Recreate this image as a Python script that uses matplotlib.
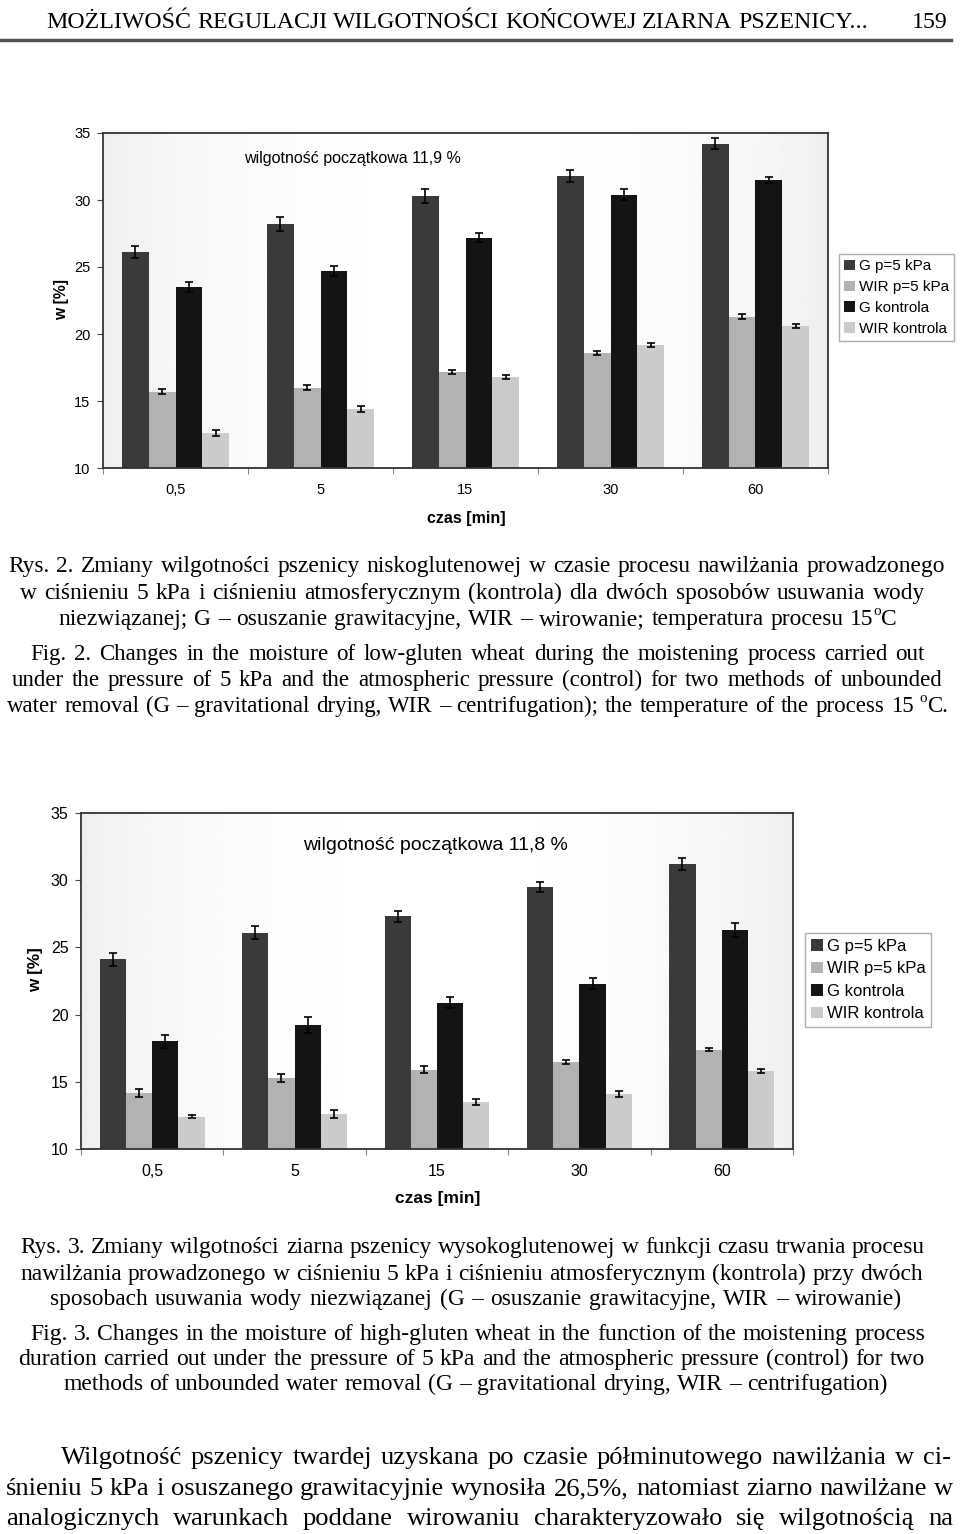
import numpy as np
import matplotlib
matplotlib.use("Agg")
import matplotlib.pyplot as plt
from matplotlib.patches import Patch
from matplotlib.lines import Line2D

plt.rcParams['font.family'] = ['Liberation Sans', 'DejaVu Sans']

# --- dane ---
czas = ['0,5', '5', '15', '30', '60']
serie = ['G p=5 kPa', 'WIR p=5 kPa', 'G kontrola', 'WIR kontrola']
kolory = ['#3a3a3a', '#b2b2b2', '#141414', '#cbcbcb']

# Rys. 2 - pszenica niskoglutenowa
g_p5_1 = [26.1, 28.2, 30.3, 31.8, 34.2]
wir_p5_1 = [15.7, 16.0, 17.2, 18.6, 21.3]
g_k_1 = [23.5, 24.7, 27.2, 30.4, 31.5]
wir_k_1 = [12.6, 14.4, 16.8, 19.2, 20.6]
g_p5_1_err = [0.45, 0.5, 0.5, 0.45, 0.4]
wir_p5_1_err = [0.2, 0.2, 0.15, 0.15, 0.2]
g_k_1_err = [0.35, 0.4, 0.35, 0.4, 0.2]
wir_k_1_err = [0.2, 0.25, 0.15, 0.15, 0.12]

# Rys. 3 - pszenica wysokoglutenowa
g_p5_2 = [24.1, 26.1, 27.3, 29.5, 31.2]
wir_p5_2 = [14.2, 15.3, 15.9, 16.5, 17.4]
g_k_2 = [18.0, 19.2, 20.9, 22.3, 26.3]
wir_k_2 = [12.4, 12.6, 13.5, 14.1, 15.8]
g_p5_2_err = [0.5, 0.5, 0.4, 0.4, 0.45]
wir_p5_2_err = [0.3, 0.3, 0.25, 0.15, 0.12]
g_k_2_err = [0.5, 0.6, 0.4, 0.4, 0.5]
wir_k_2_err = [0.12, 0.3, 0.2, 0.2, 0.15]

W, H = 960, 1534
fig = plt.figure(figsize=(W / 100, H / 100), dpi=100)
fig.patch.set_facecolor('white')


def fx(x):
    return x / W


def fy(y):
    return 1 - y / H


def wykres(box, wartosci, bledy, tytul, poz_tyt, fs_tyt, poz_w, poz_czas, leg_xy, fs, fs_leg):
    l, t, r, b = box
    ax = fig.add_axes([fx(l), fy(b), (r - l) / W, (b - t) / H])
    # lekki gradient tla
    g = np.linspace(0, 1, 300)
    tlo = 0.93 + 0.07 * np.sin(np.pi * g) ** 0.6
    ax.imshow(tlo[np.newaxis, :], cmap='gray', vmin=0, vmax=1, aspect='auto',
              extent=(0, 1, 0, 1), transform=ax.transAxes, zorder=0)
    x = np.arange(len(czas))
    w = 0.184
    for i in range(4):
        ax.bar(x + (i - 1.5) * w, wartosci[i], w, color=kolory[i], zorder=2,
               yerr=bledy[i], capsize=3,
               error_kw=dict(elinewidth=1.2, capthick=1.2, ecolor='black', zorder=3))
    ax.set_xlim(-0.5, len(czas) - 0.5)
    ax.set_ylim(10, 35)
    ax.set_yticks([10, 15, 20, 25, 30, 35])
    ax.set_xticks(np.arange(-0.5, len(czas)), labels=[''] * (len(czas) + 1))
    ax.set_xticks(x, labels=czas, minor=True)
    ax.tick_params(axis='x', which='major', direction='out', length=4, color='#888')
    ax.tick_params(axis='x', which='minor', length=0, pad=11, labelsize=fs)
    ax.tick_params(axis='y', direction='out', length=4, pad=5, labelsize=fs, color='#444')
    for s in ax.spines.values():
        s.set_color('#333')
        s.set_linewidth(1.3)
    fig.text(fx(poz_tyt[0]), fy(poz_tyt[1]), tytul, fontsize=fs_tyt, ha='center', va='center')
    fig.text(fx(poz_w[0]), fy(poz_w[1]), 'w [%]', fontsize=fs + 0.8, fontweight='bold',
             rotation=90, ha='center', va='center')
    fig.text(fx(poz_czas[0]), fy(poz_czas[1]), 'czas [min]', fontsize=fs + 1,
             fontweight='bold', ha='center', va='center')
    uchwyty = [Patch(facecolor=kolory[i], label=serie[i]) for i in range(4)]
    leg = ax.legend(handles=uchwyty, loc='upper left', bbox_to_anchor=(fx(leg_xy[0]), fy(leg_xy[1])),
                    bbox_transform=fig.transFigure, fancybox=False, edgecolor='#999',
                    fontsize=fs_leg, handlelength=0.7, handleheight=0.7, handletextpad=0.25,
                    labelspacing=0.45, borderpad=0.35, borderaxespad=0)
    leg.get_frame().set_linewidth(1.0)
    return ax


wykres((103, 133, 828, 468), [g_p5_1, wir_p5_1, g_k_1, wir_k_1],
       [g_p5_1_err, wir_p5_1_err, g_k_1_err, wir_k_1_err],
       'wilgotność początkowa 11,9 %', (352, 158), 11.5, (62, 300), (466, 518), (839, 254), 10.5, 11)

wykres((81, 813, 793, 1149), [g_p5_2, wir_p5_2, g_k_2, wir_k_2],
       [g_p5_2_err, wir_p5_2_err, g_k_2_err, wir_k_2_err],
       'wilgotność początkowa 11,8 %', (435, 846), 14, (36, 970), (438, 1198), (805, 933), 11.5, 12)

# --- teksty pod wykresami ---
renderer = fig.canvas.get_renderer()
SERIF = 'Liberation Serif'


def szer(tekst, size):
    if tekst == '':
        return 0
    t = fig.text(0, 0, tekst, fontsize=size, family=SERIF)
    w = t.get_window_extent(renderer=renderer).width
    t.remove()
    return w


# slowo moze miec indeks gorny zapisany jako ^o (stopnie)
def szerokosc(slowo, size):
    if '^o' in slowo:
        a, c = slowo.split('^o')
        return szer(a, size) + szer('o', size * 0.65) + szer(c, size)
    return szer(slowo, size)


def rysuj_slowo(slowo, x, y, size):
    if '^o' in slowo:
        a, c = slowo.split('^o')
        fig.text(fx(x), fy(y), a, fontsize=size, family=SERIF, ha='left', va='baseline')
        x += szer(a, size)
        fig.text(fx(x), fy(y - size * 0.62), 'o', fontsize=size * 0.65, family=SERIF,
                 ha='left', va='baseline')
        x += szer('o', size * 0.65)
        fig.text(fx(x), fy(y), c, fontsize=size, family=SERIF, ha='left', va='baseline')
    else:
        fig.text(fx(x), fy(y), slowo, fontsize=size, family=SERIF, ha='left', va='baseline')


def blok(linie, size0=15):
    s = min(size0 * (x1 - x0) / szer(tekst.replace('^o', 'o'), size0) for tekst, x0, x1, y in linie)
    for tekst, x0, x1, y in linie:
        slowa = tekst.split(' ')
        ws = [szerokosc(sl, s) for sl in slowa]
        gap = (x1 - x0 - sum(ws)) / max(len(slowa) - 1, 1)
        x = x0
        for sl, wd in zip(slowa, ws):
            rysuj_slowo(sl, x, y, s)
            x += wd + gap
    return s


s_nag = blok([('MOŻLIWOŚĆ REGULACJI WILGOTNOŚCI KOŃCOWEJ ZIARNA PSZENICY...', 46, 868, 28)])
fig.text(fx(948), fy(28), '159', fontsize=s_nag, family=SERIF, ha='right', va='baseline')
fig.add_artist(Line2D([0, fx(951)], [fy(40), fy(40)], color='#555', lw=2.5))

blok([
    ('Rys. 2. Zmiany wilgotności pszenicy niskoglutenowej w czasie procesu nawilżania prowadzonego', 8, 945, 572),
    ('w ciśnieniu 5 kPa i ciśnieniu atmosferycznym (kontrola) dla dwóch sposobów usuwania wody', 20, 925, 599),
    ('niezwiązanej; G – osuszanie grawitacyjne, WIR – wirowanie; temperatura procesu 15^oC', 58, 897, 625),
])
blok([
    ('Fig. 2. Changes in the moisture of low-gluten wheat during the moistening process carried out', 30, 925, 660),
    ('under the pressure of 5 kPa and the atmospheric pressure (control) for two methods of unbounded', 12, 942, 686),
    ('water removal (G – gravitational drying, WIR – centrifugation); the temperature of the process 15 ^oC.', 7, 948, 712),
])
blok([
    ('Rys. 3. Zmiany wilgotności ziarna pszenicy wysokoglutenowej w funkcji czasu trwania procesu', 20, 925, 1253),
    ('nawilżania prowadzonego w ciśnieniu 5 kPa i ciśnieniu atmosferycznym (kontrola) przy dwóch', 20, 923, 1280),
    ('sposobach usuwania wody niezwiązanej (G – osuszanie grawitacyjne, WIR – wirowanie)', 50, 902, 1305),
])
blok([
    ('Fig. 3. Changes in the moisture of high-gluten wheat in the function of the moistening process', 30, 925, 1340),
    ('duration carried out under the pressure of 5 kPa and the atmospheric pressure (control) for two', 18, 925, 1365),
    ('methods of unbounded water removal (G – gravitational drying, WIR – centrifugation)', 63, 887, 1390),
])
blok([
    ('Wilgotność pszenicy twardej uzyskana po czasie półminutowego nawilżania w ci-', 61, 951, 1464),
    ('śnieniu 5 kPa i osuszanego grawitacyjnie wynosiła 26,5%, natomiast ziarno nawilżane w', 6, 953, 1495),
    ('analogicznych warunkach poddane wirowaniu charakteryzowało się wilgotnością na', 6, 953, 1525),
])

fig.savefig('out.png', dpi=100)
